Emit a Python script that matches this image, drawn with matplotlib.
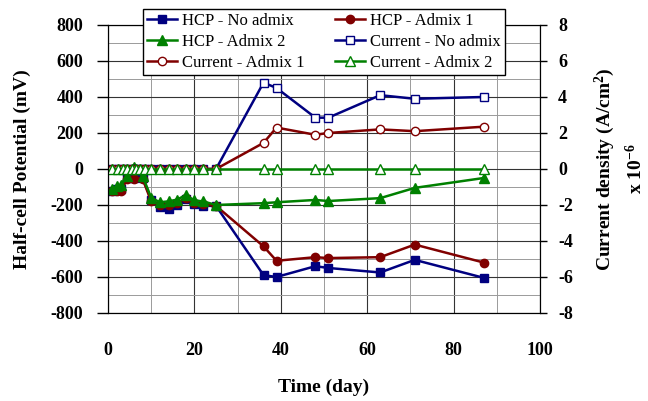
import matplotlib.pyplot as plt
from matplotlib.ticker import MultipleLocator

plt.rcParams['font.family'] = ['Liberation Serif', 'DejaVu Serif']
plt.rcParams['mathtext.fontset'] = 'custom'
plt.rcParams['mathtext.rm'] = 'Liberation Serif'
plt.rcParams['mathtext.bf'] = 'Liberation Serif:bold'
plt.rcParams['axes.unicode_minus'] = False

# HCP readings (mV)
days_hcp = [1, 2, 3, 4.5, 6, 8, 10, 12, 14, 16, 18, 20, 22, 25, 36, 39, 48, 51, 63, 71, 87]
hcp_none = [-120, -110, -110, -50, -50, -50, -170, -210, -220, -200, -165, -195, -205, -205,
            -590, -600, -540, -550, -575, -505, -605]
hcp_adm1 = [-125, -120, -120, -55, -55, -55, -180, -200, -200, -190, -160, -190, -195, -205,
            -430, -510, -490, -495, -490, -420, -520]
hcp_adm2 = [-110, -95, -90, -40, 10, -40, -160, -185, -180, -170, -145, -175, -180, -200,
            -190, -185, -172, -178, -162, -105, -50]

# current density (x 1e-6 A/cm2)
days_cur = [1, 2.3, 3.5, 4.5, 5.5, 6.5, 7.5, 8.5, 10, 12, 14, 16, 18, 20, 22, 25,
            36, 39, 48, 51, 63, 71, 87]
cur_none = [0] * 16 + [4.8, 4.5, 2.85, 2.85, 4.1, 3.9, 4.0]
cur_adm1 = [0] * 16 + [1.45, 2.3, 1.9, 2.0, 2.2, 2.1, 2.35]
cur_adm2 = [0] * 23

navy = '#000080'
dred = '#800000'
green = '#008000'

fig = plt.figure(figsize=(6.48, 4.01), dpi=100)
ax = fig.add_axes([0.1667, 0.2195, 0.6667, 0.7182])
ax2 = ax.twinx()

ax.set_xlim(0, 100)
ax.set_ylim(-800, 800)
ax2.set_ylim(-8, 8)
ax.xaxis.set_major_locator(MultipleLocator(20))
ax.xaxis.set_minor_locator(MultipleLocator(10))
ax.yaxis.set_major_locator(MultipleLocator(200))
ax.yaxis.set_minor_locator(MultipleLocator(100))
ax2.yaxis.set_major_locator(MultipleLocator(2))
ax.grid(True, which='major', color='#333333', lw=0.8)
ax.grid(True, which='minor', color='#9a9a9a', lw=0.7)
ax.set_axisbelow(True)

h = []
h += ax.plot(days_hcp, hcp_none, color=navy, marker='s', ms=6, lw=1.8, label='HCP - No admix')
h += ax.plot(days_hcp, hcp_adm1, color=dred, marker='o', ms=6, lw=1.8, label='HCP - Admix 1')
h += ax.plot(days_hcp, hcp_adm2, color=green, marker='^', ms=6.5, lw=1.8, label='HCP - Admix 2')
h += ax2.plot(days_cur, cur_none, color=navy, marker='s', ms=6, lw=1.8, mfc='white', label='Current - No admix')
h += ax2.plot(days_cur, cur_adm1, color=dred, marker='o', ms=6, lw=1.8, mfc='white', label='Current - Admix 1')
h += ax2.plot(days_cur, cur_adm2, color=green, marker='^', ms=6.5, lw=1.8, mfc='white', label='Current - Admix 2')

for a in (ax, ax2):
    a.tick_params(labelsize=13, width=1)
    for lab in a.get_xticklabels() + a.get_yticklabels():
        lab.set_fontweight('bold')
ax.tick_params(axis='y', length=8, pad=10)
ax2.tick_params(axis='y', length=5, pad=8)
ax.tick_params(axis='x', length=0, pad=21)
ax.tick_params(which='minor', length=0)

ax.set_xlabel('Time (day)', fontsize=14, fontweight='bold', labelpad=14)
ax.set_ylabel('Half-cell Potential (mV)', fontsize=14, fontweight='bold', labelpad=14)
ax2.set_ylabel('Current density (A/cm$\\mathbf{^2}$)\nx 10$\\mathbf{^{-6}}$',
               fontsize=14, fontweight='bold', labelpad=14, linespacing=1.5)

order = [0, 2, 4, 1, 3, 5]
leg = fig.legend([h[i] for i in order], [h[i].get_label() for i in order],
                 loc='upper center', bbox_to_anchor=(0.5, 0.978), ncol=2,
                 fontsize=12, frameon=True, fancybox=False, edgecolor='black',
                 framealpha=1, borderpad=0.25, labelspacing=0.3, handlelength=1.8,
                 handletextpad=0.3, columnspacing=1.8, borderaxespad=0)
leg.get_frame().set_linewidth(1)

fig.savefig('out.png', dpi=100)
